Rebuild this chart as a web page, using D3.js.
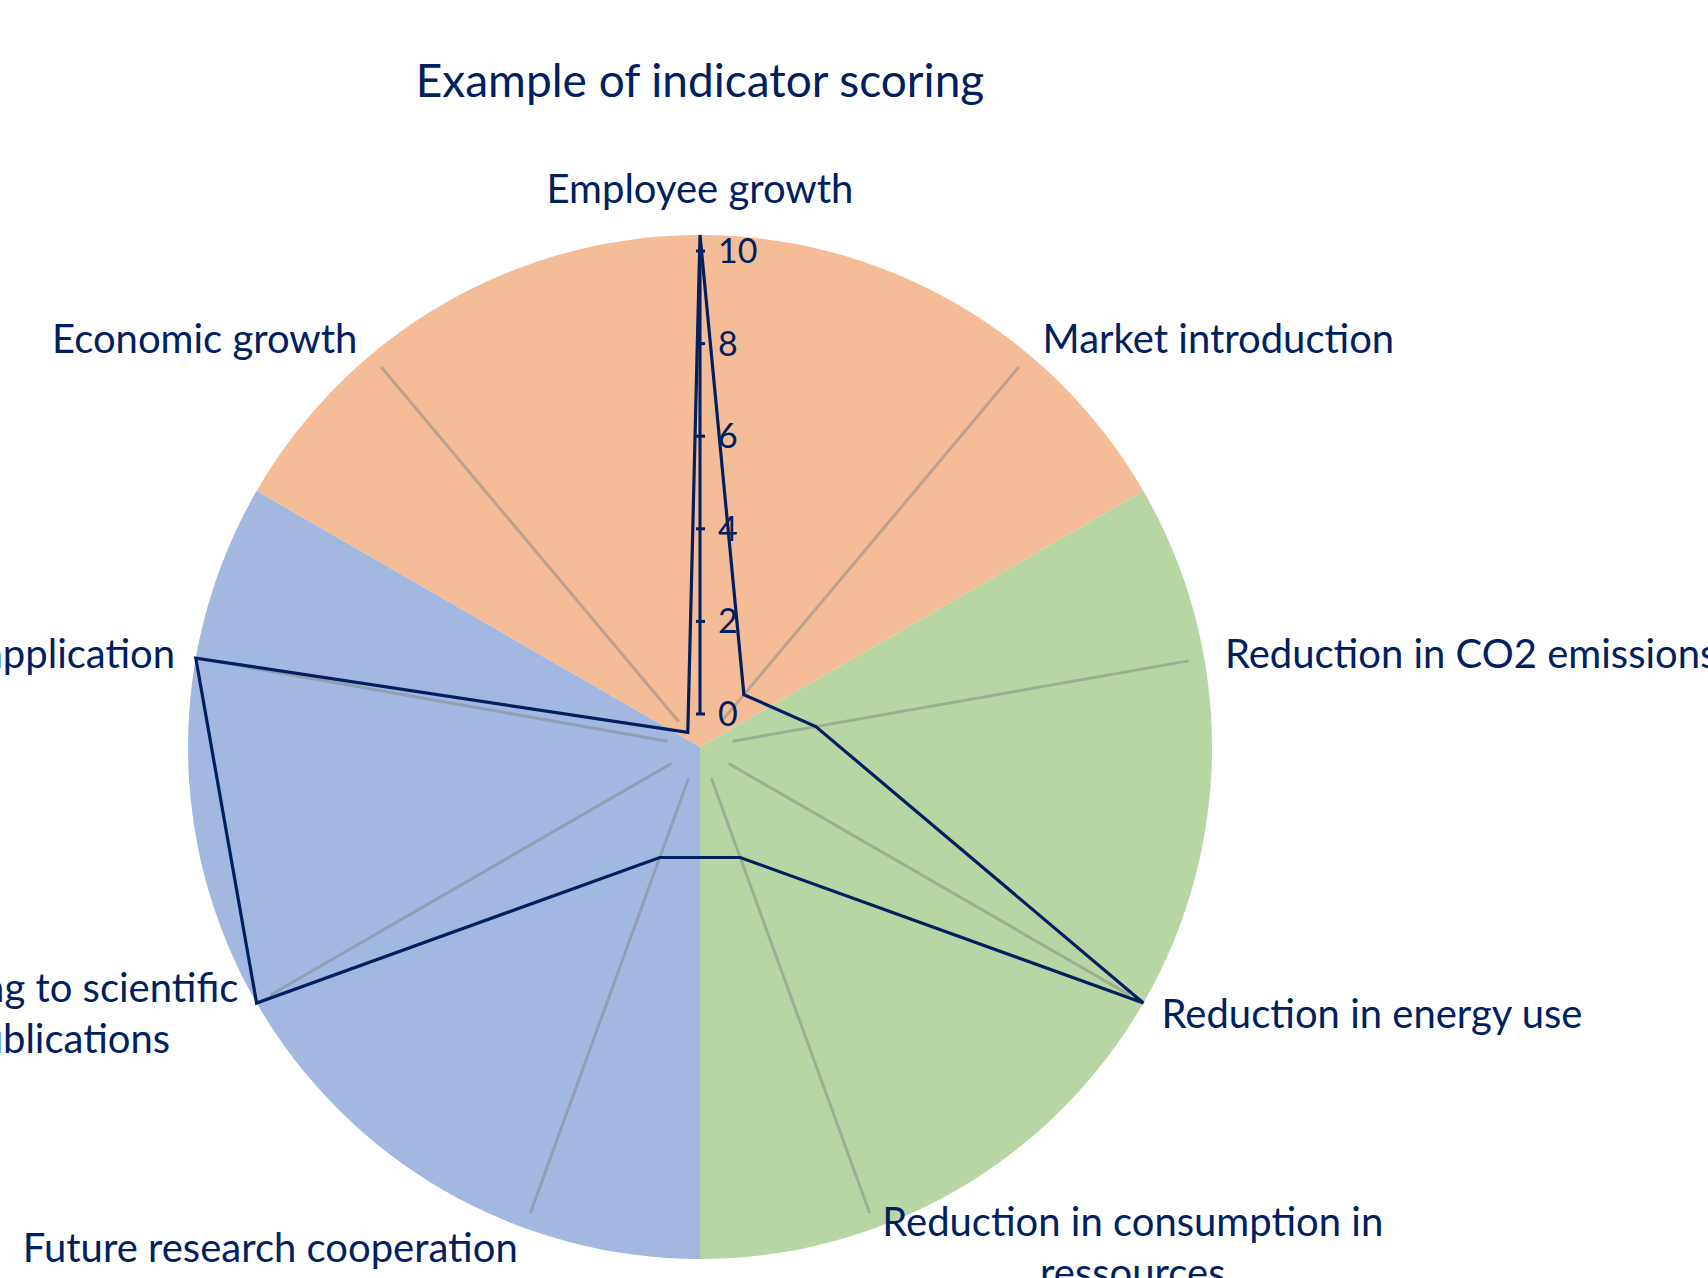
<!DOCTYPE html>
<html>
<head>
<meta charset="utf-8">
<script src="https://cdn.jsdelivr.net/npm/d3@7"></script>
<style>
  body { margin: 0; background: #fff; }
  svg { display: block; }
</style>
</head>
<body>
<script>
// indicators, clockwise from the top
const categories = [
  "Employee growth",
  "Market introduction",
  "Reduction in CO2 emissions",
  "Reduction in energy use",
  "Reduction in consumption in\nressources",
  "Future research cooperation",
  "Leading to scientific\npublications",
  "Patent application",
  "Economic growth"
];
const scores = [10, 1, 2, 10, 2, 2, 10, 10, 0];

// background sectors (three indicator groups)
const groups = ["Economic", "Environmental", "Research"];
const groupShare = [3, 3, 3];
const groupColors = ["#F5BD97", "#B8D6A4", "#A2B8E0"];

const tickValues = [0, 2, 4, 6, 8, 10];

const width = 1708, height = 1278;
const cx = 700, cy = 747;
const R = 512;
const navy = "#002060";

const svg = d3.select("body").append("svg")
    .attr("width", width)
    .attr("height", height)
    .style("font-family", "Lato, 'Open Sans', sans-serif");

const g = svg.append("g").attr("transform", `translate(${cx},${cy})`);

// pie behind the radar
const pie = d3.pie().sort(null).value(d => d)
    .startAngle(-Math.PI / 3).endAngle(2 * Math.PI - Math.PI / 3);
const arc = d3.arc().innerRadius(0).outerRadius(R);

g.append("g")
  .selectAll("path")
  .data(pie(groupShare))
  .join("path")
    .attr("d", arc)
    .attr("fill", (d, i) => groupColors[i]);

const angle = d3.scaleLinear().domain([0, categories.length]).range([0, 2 * Math.PI]);
const rAxis = d3.scaleLinear().domain([0, 10]).range([33, 496]);
const rScore = d3.scaleLinear().domain([0, 10]).range([19, R]);

// spokes
g.append("g")
    .attr("stroke", "#7f7f7f")
    .attr("stroke-opacity", 0.45)
    .attr("stroke-width", 3)
  .selectAll("line")
  .data(categories)
  .join("line")
    .attr("x1", (d, i) => rAxis(0) * Math.sin(angle(i)))
    .attr("y1", (d, i) => -rAxis(0) * Math.cos(angle(i)))
    .attr("x2", (d, i) => rAxis(10) * Math.sin(angle(i)))
    .attr("y2", (d, i) => -rAxis(10) * Math.cos(angle(i)));

// value axis
const axis = g.append("g").attr("stroke", navy).attr("stroke-width", 3);
axis.append("line")
    .attr("y1", -rAxis(0))
    .attr("y2", -rAxis(10));
axis.selectAll(".tick")
  .data(tickValues)
  .join("line")
    .attr("class", "tick")
    .attr("x1", -4).attr("x2", 5)
    .attr("y1", d => -rAxis(d))
    .attr("y2", d => -rAxis(d));

g.append("g")
    .attr("fill", navy)
    .style("font-size", "34px")
  .selectAll("text")
  .data(tickValues)
  .join("text")
    .attr("x", 18)
    .attr("y", d => -rAxis(d))
    .attr("dy", "0.35em")
    .text(d => d);

// scores
const line = d3.lineRadial()
    .angle((d, i) => angle(i))
    .radius(d => rScore(d))
    .curve(d3.curveLinearClosed);

g.append("path")
    .datum(scores)
    .attr("d", line)
    .attr("fill", "none")
    .attr("stroke", navy)
    .attr("stroke-width", 3.2)
    .attr("stroke-linejoin", "miter");

// category labels
const labelR = 533, lh = 51;
const labels = g.append("g")
    .attr("fill", navy)
    .style("font-size", "40px")
  .selectAll("text")
  .data(categories)
  .join("text")
    .attr("text-anchor", "middle");

labels.each(function(d, i) {
  const t = d3.select(this);
  const lines = d.split("\n");
  const spans = lines.map(s => t.append("tspan").text(s));
  const w = d3.max(spans, s => s.node().getComputedTextLength());
  const a = angle(i);
  const s = Math.sin(a);
  const x = labelR * s, y = -labelR * Math.cos(a);
  const n = lines.length;
  let xc, top;
  if (Math.abs(s) < 0.01) {
    xc = x;
    top = y - n * lh;
  } else {
    xc = s > 0 ? x + w / 2 : x - w / 2;
    top = y - n * lh / 2;
  }
  spans.forEach((sp, k) => sp
      .attr("x", xc)
      .attr("y", top + lh * k + lh / 2)
      .attr("dy", "0.35em"));
});

// title
svg.append("text")
    .attr("x", cx)
    .attr("y", 81)
    .attr("dy", "0.35em")
    .attr("text-anchor", "middle")
    .attr("fill", navy)
    .style("font-size", "46px")
    .text("Example of indicator scoring");
</script>
</body>
</html>
